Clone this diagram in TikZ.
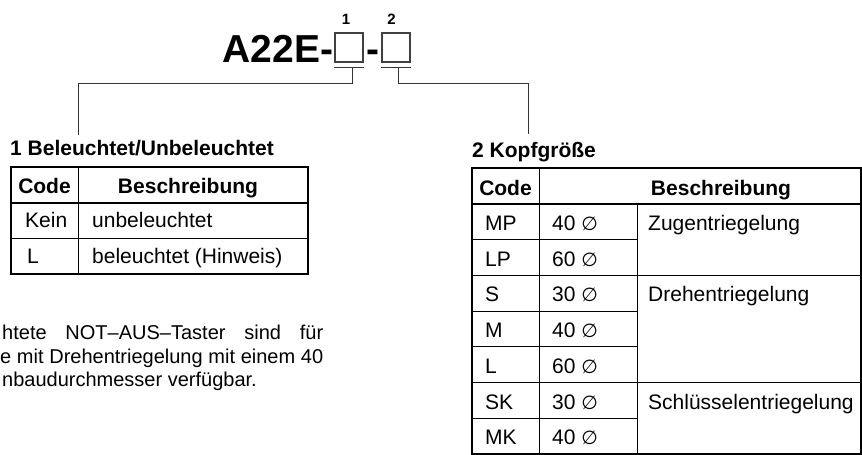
\documentclass[tikz,border=0pt]{standalone}
\usepackage{fontspec}
\setmainfont{Liberation Sans}
\newfontfamily\symfont{DejaVu Sans}
\tikzset{
    txt/.style={inner sep=0pt, anchor=base west, font=\fontsize{21}{24}\selectfont},
    hd/.style={inner sep=0pt, anchor=base, font=\fontsize{21}{24}\selectfont\bfseries},
    note/.style={inner sep=0pt, anchor=base west, font=\fontsize{20}{24}\selectfont},
    slot/.style={draw=black!75, line width=1.3pt, minimum width=28pt, minimum height=29pt, inner sep=0pt},
    lead/.style={line width=1pt, black!80},
    frame/.style={line width=2pt},
    rule/.style={line width=0.9pt},
}
\newcommand{\dia}{{\symfont\fontsize{19}{24}\selectfont ∅}}

\begin{document}
\begin{tikzpicture}[x=1pt, y=-1pt]
\useasboundingbox (0,0) rectangle (862,455);

\node[inner sep=0pt, anchor=base east, font=\fontsize{39}{39}\selectfont\bfseries] (typ) at (333.5,62) {A22E-};
\node[slot] (b1) at (349,47.5) {};
\node[inner sep=0pt, anchor=base, font=\fontsize{39}{39}\selectfont\bfseries] (dash) at (372.5,62) {-};
\node[slot] (b2) at (396,47.5) {};
\node[hd, font=\fontsize{15}{16}\selectfont\bfseries] (n1) at (346,24) {1};
\node[hd, font=\fontsize{15}{16}\selectfont\bfseries] (n2) at (391.5,24) {2};

\node[hd, anchor=base west] (t1) at (10,155) {1 Beleuchtet/Unbeleuchtet};
\node[hd, anchor=base west] (t2) at (472,157) {2 Kopfgröße};

% brackets
\draw[lead] ([yshift=-5pt]b1.south west) -- ([yshift=-5pt]b1.south east);
\draw[lead] ([yshift=-5pt]b2.south west) -- ([yshift=-5pt]b2.south east);
\coordinate (k1) at ([xshift=3pt,yshift=-5pt]b1.south);
\coordinate (k2) at ([xshift=2pt,yshift=-5pt]b2.south);
\coordinate (e1) at (78,135);
\coordinate (e2) at (528,134);
\draw[lead] (k1) -- (k1 |- 0,83) -| (e1);
\draw[lead] (k2) -- (k2 |- 0,83) -| (e2);

% table 1
\draw[frame] (11,167) rectangle (308,274);
\draw[frame] (11,202.7) -- (308,202.7);
\draw[rule] (11,238.3) -- (308,238.3);
\draw[rule] (78,167) -- (78,274);
\node[hd] (lcode) at (44.5,193) {Code};
\node[hd] (ldesc) at (188,193) {Beschreibung};
\node[txt] (kein) at (25,227.5) {Kein};
\node[txt] (kein-d) at (92,227.5) {unbeleuchtet};
\node[txt] (l) at (27,263) {L};
\node[txt] (l-d) at (92,263) {beleuchtet (Hinweis)};

% note
\node[note] (nl1) at (2,339) {\makebox[321pt][s]{htete NOT--AUS--Taster sind für}};
\node[note] (nl2) at (0,363) {\makebox[323pt][s]{e mit Drehentriegelung mit einem 40}};
\node[note] (nl3) at (2,386) {nbaudurchmesser verfügbar.};

% table 2
\draw[frame] (472,168) rectangle (861,454);
\draw[frame] (472,203.75) -- (861,203.75);
\foreach \i in {2,4,5,7}
    \draw[rule] (472,{168+35.75*\i}) -- (637,{168+35.75*\i});
\foreach \i in {3,6}
    \draw[rule] (472,{168+35.75*\i}) -- (861,{168+35.75*\i});
\draw[rule] (539,168) -- (539,454);
\draw[rule] (637,203.75) -- (637,454);
\node[hd] (rcode) at (505.5,195) {Code};
\node[hd] (rdesc) at (721,195) {Beschreibung};
\foreach \c/\d [count=\i] in {MP/40,LP/60,S/30,M/40,L/60,SK/30,MK/40} {
    \node[txt] (c\i) at (485,{168+35.75*\i+26.5}) {\c};
    \node[txt] (d\i) at (552,{168+35.75*\i+26.5}) {\d\ \dia};
}
\node[txt] (zug) at (648,230.25) {Zugentriegelung};
\node[txt] (dreh) at (648,301.5) {Drehentriegelung};
\node[txt] (schl) at (648,409) {Schlüsselentriegelung};
\end{tikzpicture}
\end{document}
